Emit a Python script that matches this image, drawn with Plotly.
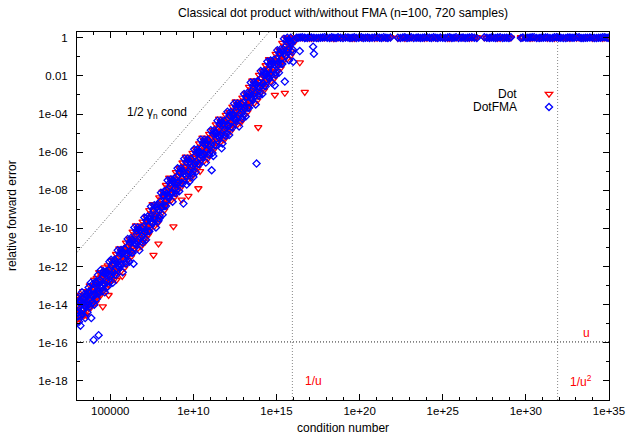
import plotly.graph_objects as go

# ---------------- data (log10 of values) ----------------
# sample set A: condition number exponent and relative error exponent
cond_a_log10 = [3.02, 3.08, 3.15, 3.21, 3.27, 3.33, 3.40, 3.46, 3.52, 3.60, 3.66, 3.73, 3.80, 3.86,
                3.93, 4.00, 4.08, 4.15, 4.22, 4.30, 4.38, 4.47, 4.55, 4.63, 4.72, 4.80, 4.90,
                5.03, 5.10, 5.18, 5.30, 5.38, 5.50, 5.60, 5.72, 5.80, 5.90,
                6.0, 6.1, 6.2, 6.3, 6.4, 6.5, 6.6, 6.7, 6.8, 6.9,
                7.0, 7.1, 7.2, 7.3, 7.4, 7.5, 7.6, 7.7, 7.8, 7.9,
                8.0, 8.1, 8.2, 8.3, 8.4, 8.5, 8.6, 8.7, 8.8, 8.9,
                9.0, 9.1, 9.2, 9.3, 9.4, 9.5, 9.6, 9.7, 9.8, 9.9,
                10.0, 10.1, 10.2, 10.3, 10.4, 10.5, 10.6, 10.7, 10.8, 10.9,
                11.0, 11.1, 11.2, 11.3, 11.4, 11.5, 11.6, 11.7, 11.8, 11.9,
                12.0, 12.1, 12.2, 12.3, 12.4, 12.5, 12.6, 12.7, 12.8, 12.9,
                13.0, 13.1, 13.2, 13.3, 13.4, 13.5, 13.6, 13.7, 13.8, 13.9,
                14.0, 14.1, 14.2, 14.3, 14.4, 14.5, 14.6, 14.7, 14.8, 14.9,
                15.0, 15.1, 15.2, 15.3, 15.4, 15.5, 15.6, 15.7, 15.8, 15.9,
                16.0, 16.1, 16.2, 16.4, 16.7, 17.2, 17.25]
fma_a_log10 = [-14.0, -14.6, -13.9, -15.1, -14.3, -13.7, -14.2, -13.6, -14.1, -13.5, -13.9, -13.3, -13.8, -14.7,
               -13.2, -15.85, -13.5, -12.9, -13.3, -15.6, -12.7, -13.1, -12.5, -12.9, -12.4, -12.8, -12.2,
               -12.5, -11.9, -12.3, -11.7, -12.1, -11.5, -11.9, -11.3, -11.6, -11.1,
               -11.4, -10.9, -11.2, -10.6, -11.85, -10.8, -10.3, -10.6, -10.1, -10.4,
               -9.9, -10.2, -9.6, -9.9, -9.4, -9.7, -9.1, -9.4, -8.9, -9.6,
               -8.6, -8.9, -8.3, -8.6, -8.0, -8.3, -7.8, -8.1, -7.5, -7.9,
               -7.3, -7.6, -7.1, -7.4, -8.7, -6.8, -7.7, -7.0, -6.5, -6.8,
               -7.3, -6.2, -6.5, -6.0, -6.3, -5.8, -6.1, -5.6, -5.9, -5.4,
               -5.7, -6.95, -6.2, -5.0, -5.3, -4.8, -5.1, -5.8, -4.5, -4.8,
               -4.3, -4.6, -4.1, -4.4, -4.0, -4.3, -3.8, -4.1, -3.6, -3.9,
               -3.4, -3.7, -3.1, -3.4, -2.9, -3.2, -2.7, -2.9, -6.6, -2.3,
               -2.6, -2.1, -2.4, -1.9, -2.2, -1.7, -1.9, -1.4, -1.7, -2.5,
               -1.1, -1.4, -0.8, -1.1, -0.6, -2.3, -0.4, -0.6, -0.2, -0.3,
               -1.26, -0.1, 0.0, -0.7, 0.0, -0.47, -0.84]
dot_a_log10 = [-13.6, -14.1, -14.4, -13.8, -13.6, -14.2, -14.5, -13.9, -13.5, -14.0, -13.3, -13.8, -13.4, -13.7,
               -13.5, -13.1, -13.4, -13.0, -13.6, -12.8, -13.2, -12.6, -14.1, -12.9, -12.3, -12.6, -13.5,
               -12.1, -12.4, -11.9, -12.2, -12.7, -11.7, -11.5, -12.5, -11.3, -11.5,
               -11.0, -11.2, -10.8, -11.0, -10.5, -10.4, -10.7, -10.2, -10.5, -10.0,
               -10.3, -10.7, -9.9, -10.3, -9.7, -9.3, -11.4, -9.0, -9.3, -10.8,
               -8.9, -8.5, -8.7, -8.2, -8.4, -7.9, -8.2, -7.7, -9.9, -7.6,
               -7.7, -7.2, -7.5, -8.5, -7.0, -7.2, -6.8, -8.3, -6.9, -6.5,
               -6.3, -6.6, -6.1, -7.9, -7.0, -6.2, -5.7, -6.0, -5.5, -5.8,
               -5.3, -5.6, -5.1, -5.4, -4.9, -5.2, -4.7, -4.9, -4.8, -4.4,
               -4.7, -4.3, -4.5, -4.0, -4.4, -3.9, -4.2, -3.7, -4.4, -3.6,
               -3.8, -3.3, -3.5, -3.1, -3.3, -2.8, -3.0, -2.6, -2.8, -4.7,
               -2.3, -2.5, -2.0, -2.3, -1.8, -2.0, -1.6, -1.8, -1.3, -3.0,
               -1.4, -1.0, -1.2, -0.7, -0.9, -2.9, -0.6, -0.3, -0.4, -0.1,
               0.0, -0.2, -0.05, -1.3, -2.85, 0.0, 0.0]

# sample set B
cond_b_log10 = [3.05, 3.12, 3.18, 3.24, 3.30, 3.37, 3.43, 3.49, 3.56, 3.63, 3.70, 3.77, 3.83, 3.90,
                3.97, 4.04, 4.12, 4.19, 4.26, 4.34, 4.42, 4.51, 4.59, 4.67, 4.76, 4.85, 4.95,
                5.05, 5.15, 5.25, 5.35, 5.45, 5.55, 5.65, 5.75, 5.85, 5.95,
                6.05, 6.15, 6.25, 6.35, 6.45, 6.55, 6.65, 6.75, 6.85, 6.95,
                7.05, 7.15, 7.25, 7.35, 7.45, 7.55, 7.65, 7.75, 7.85, 7.95,
                8.05, 8.15, 8.25, 8.35, 8.45, 8.55, 8.65, 8.75, 8.85, 8.95,
                9.05, 9.15, 9.25, 9.35, 9.45, 9.55, 9.65, 9.75, 9.85, 9.95,
                10.05, 10.15, 10.25, 10.35, 10.45, 10.55, 10.65, 10.75, 10.85, 10.95,
                11.05, 11.15, 11.25, 11.35, 11.45, 11.55, 11.65, 11.75, 11.85, 11.95,
                12.05, 12.15, 12.25, 12.35, 12.45, 12.55, 12.65, 12.75, 12.85, 12.95,
                13.05, 13.15, 13.25, 13.35, 13.45, 13.55, 13.65, 13.75, 13.85, 13.95,
                14.05, 14.15, 14.25, 14.35, 14.45, 14.55, 14.65, 14.75, 14.85, 14.95,
                15.05, 15.15, 15.25, 15.35, 15.45, 15.55, 15.65, 15.75, 15.85, 15.95]
fma_b_log10 = [-13.65, -14.9, -13.75, -14.6, -13.35, -14.3, -13.45, -14.7, -13.55, -14.4, -13.1, -14.1, -12.85, -13.9,
               -12.9, -14.0, -12.8, -13.7, -12.45, -13.3, -12.2, -13.3, -12.25, -13.35, -12.25, -13.05, -11.75,
               -11.65, -12.85, -11.65, -12.45, -11.15, -12.05, -11.13, -12.3, -11.07, -11.85,
               -10.55, -11.75, -10.5, -11.28, -9.95, -10.85, -9.95, -11.15, -9.95, -10.75,
               -9.43, -10.6, -9.38, -10.15, -8.85, -9.73, -8.78, -9.95, -8.73, -9.48,
               -8.13, -9.28, -8.05, -8.83, -7.48, -8.35, -7.43, -8.6, -7.38, -8.15,
               -6.85, -8.05, -6.85, -7.65, -6.35, -7.25, -6.35, -7.55, -6.35, -7.15,
               -5.85, -7.05, -5.85, -6.65, -5.35, -6.25, -5.35, -6.55, -5.35, -6.15,
               -4.85, -6.05, -4.85, -5.65, -4.35, -5.25, -4.35, -5.55, -4.35, -5.15,
               -3.88, -5.1, -3.9, -4.72, -3.45, -4.35, -3.45, -4.65, -3.45, -4.25,
               -2.95, -4.13, -2.9, -3.68, -2.35, -3.25, -2.33, -3.5, -2.28, -3.05,
               -1.75, -2.95, -1.75, -2.55, -1.25, -2.13, -1.2, -2.38, -1.15, -1.95,
               -0.65, -1.83, -0.6, -1.38, -0.05, -0.93, 0.0, -1.18, 0.0, -0.75]
dot_b_log10 = [-14.75, -13.7, -14.75, -13.5, -14.45, -13.3, -14.55, -13.5, -14.55, -13.3, -14.2, -13.0, -14.15, -13.0,
               -13.8, -12.7, -13.9, -12.6, -13.55, -12.3, -13.5, -12.4, -13.25, -12.05, -13.15, -11.95, -12.75,
               -12.75, -11.65, -12.65, -11.35, -12.25, -11.05, -12.23, -11.1, -12.07, -10.75,
               -11.65, -10.55, -11.5, -10.18, -11.05, -9.85, -11.05, -9.95, -10.95, -9.65,
               -10.53, -9.4, -10.38, -9.05, -9.95, -8.73, -9.88, -8.75, -9.73, -8.38,
               -9.23, -8.08, -9.05, -7.73, -8.58, -7.35, -8.53, -7.4, -8.38, -7.05,
               -7.95, -6.85, -7.85, -6.55, -7.45, -6.25, -7.45, -6.35, -7.35, -6.05,
               -6.95, -5.85, -6.85, -5.55, -6.45, -5.25, -6.45, -5.35, -6.35, -5.05,
               -5.95, -4.85, -5.85, -4.55, -5.45, -4.25, -5.45, -4.35, -5.35, -4.05,
               -4.98, -3.9, -4.9, -3.62, -4.55, -3.35, -4.55, -3.45, -4.45, -3.15,
               -4.05, -2.93, -3.9, -2.58, -3.45, -2.25, -3.43, -2.3, -3.28, -1.95,
               -2.85, -1.75, -2.75, -1.45, -2.35, -1.13, -2.3, -1.18, -2.15, -0.85,
               -1.75, -0.63, -1.6, -0.28, -1.15, 0.0, -1.1, 0.0, -0.95, 0.0]

# sample set D
cond_d_log10 = [3.075, 3.175, 3.275, 3.375, 3.475, 3.575, 3.675, 3.775, 3.875, 3.975,
                4.075, 4.175, 4.275, 4.375, 4.475, 4.575, 4.675, 4.775, 4.875, 4.975,
                5.075, 5.175, 5.275, 5.375, 5.475, 5.575, 5.675, 5.775, 5.875, 5.975,
                6.075, 6.175, 6.275, 6.375, 6.475, 6.575, 6.675, 6.775, 6.875, 6.975,
                7.075, 7.175, 7.275, 7.375, 7.475, 7.575, 7.675, 7.775, 7.875, 7.975,
                8.075, 8.175, 8.275, 8.375, 8.475, 8.575, 8.675, 8.775, 8.875, 8.975,
                9.075, 9.175, 9.275, 9.375, 9.475, 9.575, 9.675, 9.775, 9.875, 9.975,
                10.075, 10.175, 10.275, 10.375, 10.475, 10.575, 10.675, 10.775, 10.875, 10.975,
                11.075, 11.175, 11.275, 11.375, 11.475, 11.575, 11.675, 11.775, 11.875, 11.975,
                12.075, 12.175, 12.275, 12.375, 12.475, 12.575, 12.675, 12.775, 12.875, 12.975,
                13.075, 13.175, 13.275, 13.375, 13.475, 13.575, 13.675, 13.775, 13.875, 13.975,
                14.075, 14.175, 14.275, 14.375, 14.475, 14.575, 14.675, 14.775, 14.875, 14.975,
                15.075, 15.175, 15.275, 15.375, 15.475, 15.575, 15.675, 15.775, 15.875, 15.975]
fma_d_log10 = [-14.42, -13.85, -14.48, -13.9, -14.03, -13.44, -14.03, -13.42, -13.5, -13.88,
               -13.42, -12.84, -13.44, -12.85, -12.93, -12.33, -12.94, -12.33, -12.43, -12.83,
               -12.42, -11.82, -12.42, -11.82, -11.92, -11.32, -11.9, -11.27, -11.34, -11.72,
               -11.32, -10.72, -11.27, -10.65, -10.72, -10.12, -10.72, -10.12, -10.22, -10.62,
               -10.2, -9.57, -10.15, -9.52, -9.62, -9.0, -9.55, -8.92, -9.0, -9.35,
               -8.9, -8.25, -8.82, -8.2, -8.25, -7.62, -8.2, -7.57, -7.65, -8.02,
               -7.62, -7.02, -7.62, -7.02, -7.12, -6.52, -7.12, -6.52, -6.62, -7.02,
               -6.62, -6.02, -6.62, -6.02, -6.12, -5.52, -6.12, -5.52, -5.62, -6.02,
               -5.62, -5.02, -5.62, -5.02, -5.12, -4.52, -5.12, -4.52, -4.62, -5.02,
               -4.65, -4.07, -4.67, -4.09, -4.22, -3.62, -4.22, -3.62, -3.72, -4.12,
               -3.72, -3.1, -3.67, -3.05, -3.12, -2.52, -3.1, -2.47, -2.55, -2.92,
               -2.52, -1.92, -2.52, -1.92, -2.02, -1.4, -1.97, -1.35, -1.42, -1.82,
               -1.42, -0.8, -1.37, -0.75, -0.82, -0.2, -0.77, -0.15, -0.22, -0.62]
dot_d_log10 = [-14.02, -14.45, -13.98, -14.4, -13.63, -13.84, -13.33, -13.82, -14.0, -13.28,
               -13.02, -13.44, -12.94, -13.35, -12.53, -12.73, -12.24, -12.73, -12.93, -12.23,
               -12.02, -12.42, -11.92, -12.32, -11.52, -11.72, -11.2, -11.67, -11.84, -11.12,
               -10.92, -11.32, -10.77, -11.15, -10.32, -10.52, -10.02, -10.52, -10.72, -10.02,
               -9.8, -10.17, -9.65, -10.02, -9.22, -9.4, -8.85, -9.32, -9.5, -8.75,
               -8.5, -8.85, -8.32, -8.7, -7.85, -8.02, -7.5, -7.97, -8.15, -7.42,
               -7.22, -7.62, -7.12, -7.52, -6.72, -6.92, -6.42, -6.92, -7.12, -6.42,
               -6.22, -6.62, -6.12, -6.52, -5.72, -5.92, -5.42, -5.92, -6.12, -5.42,
               -5.22, -5.62, -5.12, -5.52, -4.72, -4.92, -4.42, -4.92, -5.12, -4.42,
               -4.25, -4.67, -4.17, -4.59, -3.82, -4.02, -3.52, -4.02, -4.22, -3.52,
               -3.32, -3.7, -3.17, -3.55, -2.72, -2.92, -2.4, -2.87, -3.05, -2.32,
               -2.12, -2.52, -2.02, -2.42, -1.62, -1.8, -1.27, -1.75, -1.92, -1.22,
               -1.02, -1.4, -0.87, -1.25, -0.42, -0.6, -0.07, -0.55, -0.72, -0.02]

# sample sets C and E: saturated samples (error ~ 1)
cond_c_log10 = [16.3, 16.55, 16.85, 17.1, 17.4, 17.65, 17.9, 18.2, 18.45, 18.7, 19.0, 19.3, 19.55, 19.8,
                20.1, 20.35, 20.6, 20.9, 21.2, 21.45, 21.7, 22.3, 22.6, 22.85, 23.1, 23.4, 23.65, 23.9,
                24.2, 24.45, 24.7, 25.0, 25.3, 25.55, 25.8, 26.1, 26.35, 26.6, 26.9, 27.5, 27.8, 28.05,
                28.3, 28.6, 28.85, 29.1, 29.7, 30.0, 30.25, 30.5, 30.8, 31.05, 31.3, 31.6, 31.85, 32.1,
                32.4, 32.65, 32.9, 33.2, 33.45, 33.7, 34.0, 34.25, 34.5, 34.75, 34.98]
fma_c_log10 = [0.0, 0.02, -0.01, 0.01, -0.02, 0.0, 0.03, -0.01, 0.0, 0.02, -0.02, 0.01, 0.0, -0.01,
               0.02, 0.0, -0.02, 0.01, 0.0, 0.03, -0.01, 0.0, 0.01, -0.02, 0.02, 0.0, -0.01, 0.01,
               0.0, 0.02, -0.02, 0.0, 0.01, -0.01, 0.03, 0.0, -0.02, 0.01, 0.0, 0.02, -0.01, 0.0,
               0.01, -0.02, 0.0, 0.02, -0.01, 0.0, 0.01, 0.03, -0.02, 0.0, 0.01, -0.01, 0.02, 0.0,
               -0.02, 0.01, 0.0, 0.02, -0.01, 0.0, 0.01, -0.02, 0.0, 0.02, 0.0]
dot_c_log10 = [0.03, 0.0, 0.02, -0.02, 0.01, 0.03, 0.0, 0.02, -0.03, 0.0, 0.01, 0.03, -0.02, 0.02,
               0.0, 0.03, 0.01, -0.02, 0.02, 0.0, 0.03, -0.02, 0.02, 0.01, 0.0, 0.03, 0.02, -0.02,
               0.03, 0.0, 0.01, 0.03, -0.02, 0.02, 0.0, 0.03, 0.01, -0.02, 0.03, 0.0, 0.02, 0.03,
               -0.02, 0.01, 0.03, 0.0, 0.02, 0.03, -0.02, 0.0, 0.01, 0.03, -0.02, 0.02, 0.0, 0.03,
               0.01, -0.02, 0.03, 0.0, 0.02, 0.03, -0.02, 0.01, 0.03, 0.0, 0.03]
cond_e_log10 = [16.42, 16.7, 16.98, 17.25, 17.52, 17.78, 18.05, 18.32, 18.58, 18.85,
                19.15, 19.42, 19.68, 19.95, 20.22, 20.48, 20.75, 21.05, 21.32, 21.58,
                21.85, 22.45, 22.72, 22.98, 23.25, 23.52, 23.78, 24.05, 24.32, 24.58,
                24.85, 25.15, 25.42, 25.68, 25.95, 26.22, 26.48, 26.75, 27.05, 27.65,
                27.92, 28.18, 28.45, 28.72, 28.98, 29.82, 30.12, 30.38, 30.65, 30.92,
                31.18, 31.45, 31.72, 31.98, 32.25, 32.52, 32.78, 33.05, 33.32, 33.58,
                33.85, 34.12, 34.38, 34.62, 34.88]
fma_e_log10 = [0.01, -0.01, 0.02, 0.0, -0.02, 0.01, 0.0, 0.02, -0.01, 0.0,
               0.01, -0.01, 0.02, 0.0, -0.02, 0.01, 0.0, 0.02, -0.01, 0.0,
               0.01, -0.01, 0.02, 0.0, -0.02, 0.01, 0.0, 0.02, -0.01, 0.0,
               0.01, -0.01, 0.02, 0.0, -0.02, 0.01, 0.0, 0.02, -0.01, 0.0,
               0.01, -0.01, 0.02, 0.0, -0.02, 0.01, 0.0, 0.02, -0.01, 0.0,
               0.01, -0.01, 0.02, 0.0, -0.02, 0.01, 0.0, 0.02, -0.01, 0.0,
               0.01, -0.02, 0.0, 0.02, 0.0]
dot_e_log10 = [0.02, 0.0, -0.02, 0.03, 0.01, 0.0, 0.03, -0.01, 0.02, 0.0,
               0.02, 0.0, -0.02, 0.03, 0.01, 0.0, 0.03, -0.01, 0.02, 0.0,
               0.02, 0.0, -0.02, 0.03, 0.01, 0.0, 0.03, -0.01, 0.02, 0.0,
               0.02, 0.0, -0.02, 0.03, 0.01, 0.0, 0.03, -0.01, 0.02, 0.0,
               0.02, 0.0, -0.02, 0.03, 0.01, 0.0, 0.03, -0.01, 0.02, 0.0,
               0.02, 0.0, -0.02, 0.03, 0.01, 0.0, 0.03, -0.01, 0.02, 0.0,
               0.03, 0.0, 0.02, -0.02, 0.01]

# axis ticks
x_tick_vals = [1e5, 1e10, 1e15, 1e20, 1e25, 1e30, 1e35]
x_tick_text = ["100000", "1e+10", "1e+15", "1e+20", "1e+25", "1e+30", "1e+35"]
x_minor_vals = [10.0 ** k for k in range(4, 35) if k % 5 != 0]
y_tick_vals = [1, 1e-2, 1e-4, 1e-6, 1e-8, 1e-10, 1e-12, 1e-14, 1e-16, 1e-18]
y_tick_text = ["1", "0.01", "1e-04", "1e-06", "1e-08", "1e-10", "1e-12", "1e-14", "1e-16", "1e-18"]
y_minor_vals = [10.0 ** (-k) for k in range(1, 19, 2)]

# constants of the experiment
n = 100
u = 2.0 ** -53
gamma_n = n * u / (1 - n * u)
x_lo, x_hi = 1e3, 1e35
y_lo, y_hi = 1e-19, 2.0

# ---------------- build ----------------
def pw(lst):
    return [10.0 ** v for v in lst]

cond = pw(cond_a_log10 + cond_b_log10 + cond_d_log10 + cond_c_log10 + cond_e_log10)
err_dot = pw(dot_a_log10 + dot_b_log10 + dot_d_log10 + dot_c_log10 + dot_e_log10)
err_fma = pw(fma_a_log10 + fma_b_log10 + fma_d_log10 + fma_c_log10 + fma_e_log10)

FONT = "Liberation Sans, Arial, Helvetica, sans-serif"
RED = "#ff0000"
BLUE = "#0000ff"

# plot area in pixels (for placing paper-referenced texts)
PL, PR, PT, PB = 77, 609, 32, 400
def px_x(p):
    return (p - PL) / (PR - PL)
def px_y(p):
    return (PB - p) / (PB - PT)

fig = go.Figure()

# reference lines
fig.add_trace(go.Scatter(x=[x_lo, x_hi], y=[0.5 * gamma_n * x_lo, 0.5 * gamma_n * x_hi],
                         mode="lines", line=dict(color="#555555", width=1, dash="1px,2px"),
                         showlegend=False, hoverinfo="skip"))
fig.add_trace(go.Scatter(x=[1 / u, 1 / u], y=[y_lo, y_hi], mode="lines",
                         line=dict(color="#888888", width=1, dash="1px,2px"),
                         showlegend=False, hoverinfo="skip"))
fig.add_trace(go.Scatter(x=[1 / u ** 2, 1 / u ** 2], y=[y_lo, y_hi], mode="lines",
                         line=dict(color="#888888", width=1, dash="1px,2px"),
                         showlegend=False, hoverinfo="skip"))
fig.add_trace(go.Scatter(x=[x_lo, x_hi], y=[u, u], mode="lines",
                         line=dict(color="#222222", width=1, dash="1px,2px"),
                         showlegend=False, hoverinfo="skip"))

# data
fig.add_trace(go.Scatter(x=cond, y=err_dot, mode="markers", name="",
                         marker=dict(symbol="triangle-down-open", size=6.5, color=RED,
                                     line=dict(width=1.3, color=RED)),
                         legend="legend"))
fig.add_trace(go.Scatter(x=cond, y=err_fma, mode="markers", name="",
                         marker=dict(symbol="diamond-open", size=5.5, color=BLUE,
                                     line=dict(width=1.3, color=BLUE)),
                         legend="legend2"))

axis_common = dict(showline=True, linecolor="black", linewidth=1, mirror="ticks",
                   ticks="inside", ticklen=6, tickcolor="black", tickwidth=1,
                   showgrid=False, zeroline=False, automargin=False,
                   tickfont=dict(family=FONT, size=11.5, color="black"))

fig.update_xaxes(type="log", range=[3, 35], tickmode="array", tickvals=x_tick_vals,
                 ticktext=x_tick_text, ticklabelstandoff=0,
                 minor=dict(tickmode="array", tickvals=x_minor_vals, ticks="inside",
                            ticklen=3, tickcolor="black"),
                 **axis_common)
fig.update_yaxes(type="log", range=[-19, 0.30103], tickmode="array", tickvals=y_tick_vals,
                 ticktext=y_tick_text, ticklabelstandoff=6,
                 minor=dict(tickmode="array", tickvals=y_minor_vals, ticks="inside",
                            ticklen=3, tickcolor="black"),
                 **axis_common)

annotations = [
    dict(text="1/2 γ<sub>n</sub> cond", x=5.9, y=-3.95, xref="x", yref="y",
         xanchor="left", yanchor="middle", showarrow=False,
         font=dict(family=FONT, size=12, color="black")),
    dict(text="1/u", x=16.6, y=-18.0, xref="x", yref="y", xanchor="left", yanchor="middle",
         showarrow=False, font=dict(family=FONT, size=12, color=RED)),
    dict(text="1/u<sup>2</sup>", x=32.55, y=-18.0, xref="x", yref="y", xanchor="left",
         yanchor="middle", showarrow=False, font=dict(family=FONT, size=12, color=RED)),
    dict(text="u", x=33.65, y=-15.5, xref="x", yref="y", xanchor="center", yanchor="middle",
         showarrow=False, font=dict(family=FONT, size=12, color=RED)),
    dict(text="Dot", x=px_x(519), y=px_y(94), xref="paper", yref="paper",
         xanchor="right", yanchor="middle", showarrow=False,
         font=dict(family=FONT, size=12, color="black")),
    dict(text="DotFMA", x=px_x(519), y=px_y(107), xref="paper", yref="paper",
         xanchor="right", yanchor="middle", showarrow=False,
         font=dict(family=FONT, size=12, color="black")),
    dict(text="condition number", x=0.5, y=px_y(428), xref="paper", yref="paper",
         xanchor="center", yanchor="middle", showarrow=False,
         font=dict(family=FONT, size=12, color="black")),
    dict(text="relative forward error", x=px_x(12), y=0.5, xref="paper", yref="paper",
         xanchor="center", yanchor="middle", textangle=-90, showarrow=False,
         font=dict(family=FONT, size=12, color="black")),
]

legend_common = dict(xanchor="left", yanchor="middle", bgcolor="rgba(0,0,0,0)",
                     borderwidth=0, font=dict(family=FONT, size=11), itemwidth=30)

fig.update_layout(
    width=629, height=435,
    margin=dict(l=PL, r=629 - PR, t=PT, b=435 - PB, autoexpand=False),
    paper_bgcolor="white", plot_bgcolor="white",
    title=dict(text="Classical dot product with/without FMA (n=100, 720 samples)",
               x=0.5, xref="paper", xanchor="center", y=1 - 13 / 435, yref="container",
               yanchor="middle", font=dict(family=FONT, size=12.2, color="black")),
    legend=dict(x=px_x(529), y=px_y(94), **legend_common),
    legend2=dict(x=px_x(529), y=px_y(107), **legend_common),
    annotations=annotations,
    showlegend=True,
    hovermode=False,
)

fig.write_html("out.html", config={"displayModeBar": False, "staticPlot": True},
               post_script="document.body.style.margin='0px';document.body.style.overflow='hidden';")
